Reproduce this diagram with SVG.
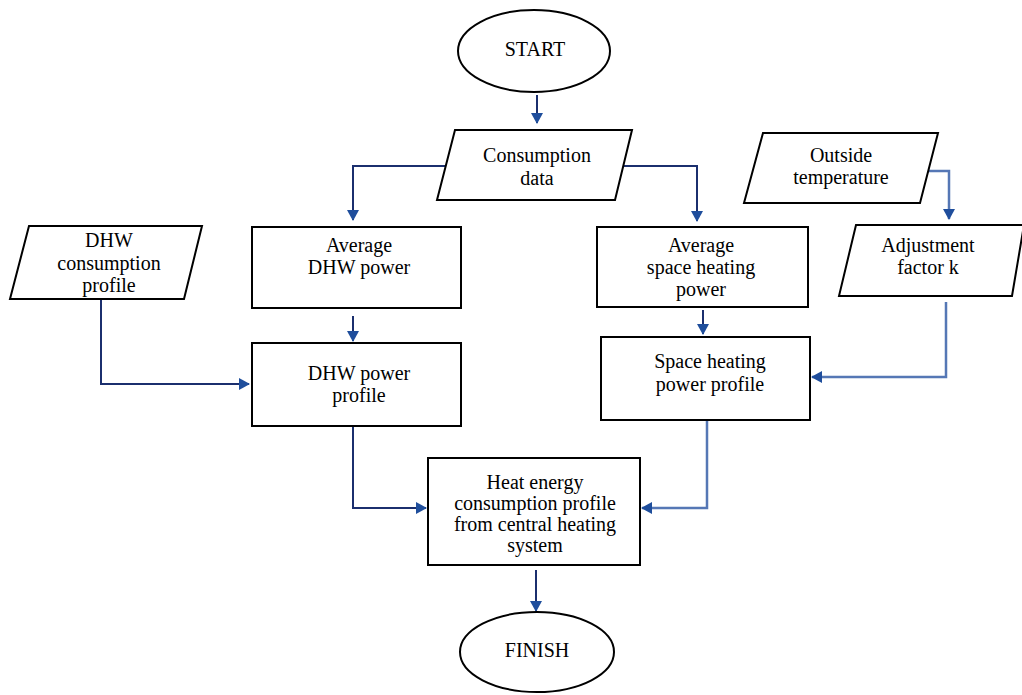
<svg xmlns="http://www.w3.org/2000/svg" width="1022" height="695" viewBox="0 0 1022 695">
<style>
.s{fill:#fff;stroke:#000;stroke-width:2}
.t{font-family:'Liberation Serif','DejaVu Serif',serif;font-size:20px;fill:#000;text-anchor:middle}
.c{fill:none;stroke:#1b2f6e;stroke-width:2}
.l{fill:none;stroke:#5577b5;stroke-width:2.5}
</style>
<defs>
<marker id="a" markerWidth="12" markerHeight="12" refX="10" refY="6" orient="auto" markerUnits="userSpaceOnUse" viewBox="0 0 12 12">
<path d="M0,0 L11,6 L0,12 Z" fill="#1f4e9c"/>
</marker>
</defs>
<rect width="1022" height="695" fill="#fff"/>
<g id="connectors">
<path class="c" d="M537,95 V123" marker-end="url(#a)"/>
<path class="c" d="M446,166 H353 V220" marker-end="url(#a)"/>
<path class="c" d="M624,166 H697 V221" marker-end="url(#a)"/>
<path class="l" d="M928,171 H949 V219" marker-end="url(#a)"/>
<path class="c" d="M353,316 V341" marker-end="url(#a)"/>
<path class="c" d="M703,310 V334" marker-end="url(#a)"/>
<path class="c" d="M101,299 V384 H249" marker-end="url(#a)"/>
<path class="l" d="M946,302 V377 H812" marker-end="url(#a)"/>
<path class="c" d="M353,426 V508 H426" marker-end="url(#a)"/>
<path class="l" d="M707,421 V508 H642" marker-end="url(#a)"/>
<path class="c" d="M536,570 V611" marker-end="url(#a)"/>
</g>
<g id="start">
<ellipse class="s" cx="534" cy="51" rx="76" ry="41"/>
<text class="t" x="535" y="56">START</text>
</g>
<g id="consumption-data">
<polygon class="s" points="455,130 632,130 615,200 437,200"/>
<text class="t" x="537" y="162">Consumption</text>
<text class="t" x="537" y="185">data</text>
</g>
<g id="outside-temperature">
<polygon class="s" points="763,133 938,133 920,203 744,203"/>
<text class="t" x="841" y="162">Outside</text>
<text class="t" x="841" y="184">temperature</text>
</g>
<g id="dhw-consumption-profile">
<polygon class="s" points="29,226 202,226 184,299 10,299"/>
<text class="t" x="109" y="247">DHW</text>
<text class="t" x="109" y="270">consumption</text>
<text class="t" x="109" y="292">profile</text>
</g>
<g id="average-dhw-power">
<rect class="s" x="252" y="227" width="209" height="81"/>
<text class="t" x="359" y="252">Average</text>
<text class="t" x="359" y="274">DHW power</text>
</g>
<g id="average-space-heating-power">
<rect class="s" x="597" y="227" width="211" height="80"/>
<text class="t" x="701" y="252">Average</text>
<text class="t" x="701" y="274">space heating</text>
<text class="t" x="701" y="296">power</text>
</g>
<g id="adjustment-factor">
<polygon class="s" points="856,225 1024,225 1012,296 839,296"/>
<text class="t" x="928" y="252">Adjustment</text>
<text class="t" x="928" y="274">factor k</text>
</g>
<g id="dhw-power-profile">
<rect class="s" x="252" y="343" width="209" height="83"/>
<text class="t" x="359" y="380">DHW power</text>
<text class="t" x="359" y="402">profile</text>
</g>
<g id="space-heating-power-profile">
<rect class="s" x="601" y="337" width="209" height="83"/>
<text class="t" x="710" y="368">Space heating</text>
<text class="t" x="710" y="391">power profile</text>
</g>
<g id="heat-energy-profile">
<rect class="s" x="428" y="458" width="212" height="107"/>
<text class="t" x="535" y="489">Heat energy</text>
<text class="t" x="535" y="510">consumption profile</text>
<text class="t" x="535" y="531">from central heating</text>
<text class="t" x="535" y="552">system</text>
</g>
<g id="finish">
<ellipse class="s" cx="537" cy="652" rx="77" ry="40"/>
<text class="t" x="537" y="657">FINISH</text>
</g>
</svg>
